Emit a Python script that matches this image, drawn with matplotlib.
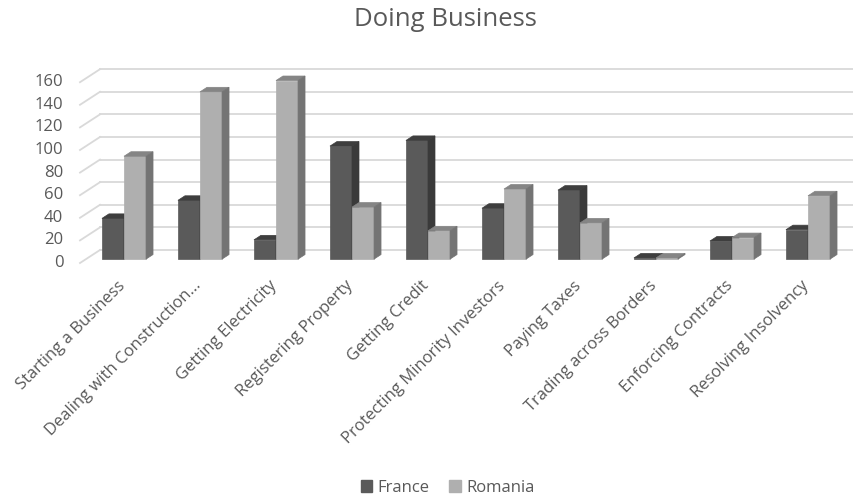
import matplotlib
matplotlib.use("Agg")
import matplotlib.pyplot as plt
from matplotlib.patches import Polygon, Rectangle

# Doing Business ranks
categories = ['Starting a Business', 'Dealing with Construction...', 'Getting Electricity',
              'Registering Property', 'Getting Credit', 'Protecting Minority Investors',
              'Paying Taxes', 'Trading across Borders', 'Enforcing Contracts',
              'Resolving Insolvency']
france = [36, 52, 17, 100, 105, 45, 61, 1, 16, 26]
romania = [91, 148, 158, 46, 25, 62, 32, 1, 19, 56]
yticks = [0, 20, 40, 60, 80, 100, 120, 140, 160]

# fake 3d: oblique offset of the back wall
DX, DY = 0.263, 11.5
D0, D1 = 0.3, 0.65
W = 0.29
TXT = '#595959'
FS = 12

# (front, top, side) colours
colors = {'France': ('#5a5a5a', '#3e3e3e', '#3a3a3a'),
          'Romania': ('#afafaf', '#858585', '#747474')}


def proj(x, y, d):
    return (x + d * DX, y + d * DY)


fig = plt.figure(figsize=(8.54, 4.97), dpi=100)
ax = fig.add_axes([80 / 854, (497 - 263) / 497, 760 / 854, (263 - 60) / 497])
ax.set_xlim(-0.5, 9.5)
ax.set_ylim(0, 203 / 1.13)
ax.axis('off')

# back wall gridlines + left diagonal
for v in yticks:
    x0, y0 = proj(-0.5, v, 1)
    ax.plot([x0, 9.5 + DX], [y0, y0], color='#d9d9d9', lw=1.3, clip_on=False, zorder=1)
    xa, ya = proj(-0.5, v, 0)
    ax.plot([xa, x0], [ya, y0], color='#d9d9d9', lw=1.3, clip_on=False, zorder=1)
    ax.text(xa - 0.22, ya, str(v), ha='right', va='center', fontsize=FS,
            color=TXT, family='Open Sans')


def bar3d(xl, v, cols):
    front, top, side = cols
    fx, fy = proj(xl, 0, D0)
    ax.add_patch(Rectangle((fx, fy), W, v, facecolor=front, edgecolor=front,
                           lw=0.5, clip_on=False, zorder=3))
    ax.add_patch(Polygon([proj(xl, v, D0), proj(xl + W, v, D0),
                          proj(xl + W, v, D1), proj(xl, v, D1)],
                         closed=True, facecolor=top, edgecolor=top, lw=0.5,
                         clip_on=False, zorder=3))
    ax.add_patch(Polygon([proj(xl + W, 0, D0), proj(xl + W, v, D0),
                          proj(xl + W, v, D1), proj(xl + W, 0, D1)],
                         closed=True, facecolor=side, edgecolor=side, lw=0.5,
                         clip_on=False, zorder=3))


for i in range(len(categories)):
    bar3d(i - W, france[i], colors['France'])
    bar3d(i, romania[i], colors['Romania'])
    ax.text(i + 0.06, -18, categories[i], rotation=45, rotation_mode='anchor',
            ha='right', va='center', fontsize=FS, color=TXT, family='Open Sans')

fig.text(0.522, 0.96, 'Doing Business', ha='center', va='center', fontsize=18.5,
         color=TXT, family='Open Sans')

handles = [Rectangle((0, 0), 1, 1, color=colors['France'][0]),
           Rectangle((0, 0), 1, 1, color=colors['Romania'][0])]
leg = fig.legend(handles, ['France', 'Romania'], loc='center', ncol=2,
                 bbox_to_anchor=(0.524, 0.018), frameon=False, handlelength=0.7,
                 handleheight=0.7, handletextpad=0.3, columnspacing=1.2,
                 prop={'family': 'Open Sans', 'size': FS})
for t in leg.get_texts():
    t.set_color(TXT)

fig.savefig('out.png', dpi=100)
